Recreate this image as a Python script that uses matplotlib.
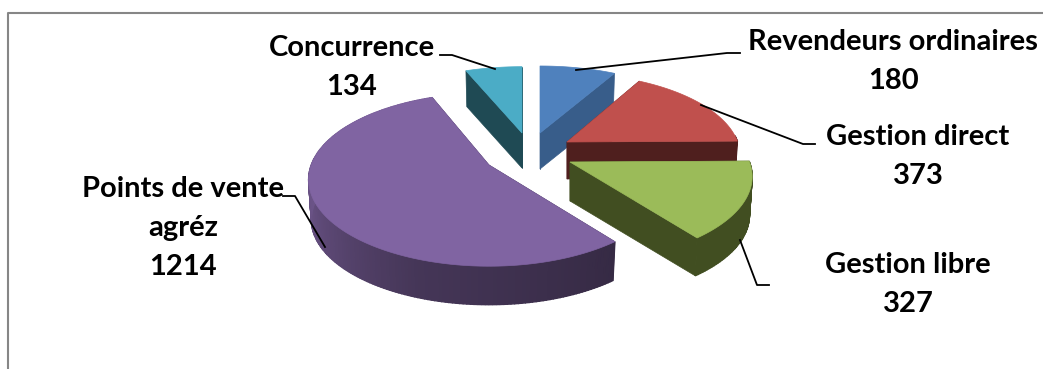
import numpy as np
import matplotlib
matplotlib.use("Agg")
import matplotlib.pyplot as plt
from matplotlib.colors import to_rgb


# ==================================
# DATA
# ==================================

categories = ["Revendeurs ordinaires", "Gestion direct", "Gestion libre",
              "Points de vente\nagréz", "Concurrence"]
values = [180, 373, 327, 1214, 134]


# ==================================
# SETTINGS
# ==================================

top_colors = ["#4F81BD", "#C0504D", "#9BBB59", "#8064A2", "#4BACC6"]
face_colors = ["#385D8A", "#4F1F1E", "#414E21", "#35294A", "#1F4A54"]

# apex of every exploded slice, in pixels
apex_x = [540, 567, 570, 489, 522]
apex_y = [133, 142, 162, 165, 133]
depths = [36, 37, 39, 40, 35]

# small per-slice corrections of the ellipse radii
rx_scale = [1.0, 0.97, 1.02, 1.01, 1.0]
ry_scale = [0.98, 1.0, 1.04, 1.05, 0.97]

RX = 176
RY = 80
PERSPECTIVE = 0.17
BOTTOM_SCALE = 0.985

# label centres (first line) and leader lines
label_x = [893, 918, 908, 183, 352]
label_y = [42, 137, 265, 189, 48]
LINE_PITCH = 39
leaders = [
    [(576, 70), (727, 53), (740, 53)],
    [(701, 105), (803, 144), (815, 144)],
    [(740, 240), (757, 285), (769, 285)],
    [(325, 247), (295, 196), (283, 196)],
    [(495, 69), (452, 55), (440, 55)],
]

# slice order from back to front
draw_order = [4, 0, 1, 3, 2]


# ==================================
# HELPERS
# ==================================

def project(theta, i, scale=1.0):
    # theta in degrees, clockwise from twelve o'clock
    t = np.radians(theta)
    u = np.sin(t)
    v = np.cos(t)
    w = 1 + PERSPECTIVE * v
    return (scale * rx_scale[i] * RX * u / w,
            -scale * ry_scale[i] * RY * v / w)


def wall_shade(theta):
    # front of the pie is dark on the right, lighter towards the left
    return np.interp(theta, [90, 142, 200, 250, 300, 360],
                     [0.42, 0.42, 0.54, 0.78, 0.92, 0.92])


# ==================================
# DRAW
# ==================================

fig = plt.figure(figsize=(10.43, 3.69), dpi=100)
ax = fig.add_axes([0, 0, 1, 1])
ax.set_xlim(0, 1043)
ax.set_ylim(369, 0)
ax.axis("off")

ax.plot([8, 8, 1043], [369, 13, 13], color="#868686", lw=1.5)

edges = np.concatenate([[0], np.cumsum(values)]) / np.sum(values) * 360

for i in draw_order:
    start, end = edges[i], edges[i + 1]
    cx, cy, d = apex_x[i], apex_y[i], depths[i]
    thetas = np.linspace(start, end, int(end - start) + 2)
    sx, sy = project(thetas, i)
    bx, by = project(thetas, i, BOTTOM_SCALE)

    # cut faces
    for k in [0, -1]:
        ax.fill([cx, cx + sx[k], cx + bx[k], cx],
                [cy, cy + sy[k], cy + by[k] + d, cy + d],
                color=face_colors[i], lw=0.5, zorder=1)

    # outer wall, one strip per step so the shading can vary
    base = np.array(to_rgb(top_colors[i]))
    for k in range(len(thetas) - 1):
        mid = (thetas[k] + thetas[k + 1]) / 2
        if 85 < mid < 275 or i == 3:
            if i == 3:
                col = base * wall_shade(mid)
            else:
                col = to_rgb(face_colors[i])
            ax.fill([cx + sx[k], cx + sx[k + 1], cx + bx[k + 1], cx + bx[k]],
                    [cy + sy[k], cy + sy[k + 1], cy + by[k + 1] + d, cy + by[k] + d],
                    color=col, lw=1.0, zorder=1)

    # top of the slice
    ax.fill(np.r_[cx, cx + sx], np.r_[cy, cy + sy],
            color=top_colors[i], lw=0.5, zorder=1)

for pts in leaders:
    xs, ys = zip(*pts)
    ax.plot(xs, ys, color="black", lw=1.3, zorder=3)

for name, value, x, y in zip(categories, values, label_x, label_y):
    lines = name.split("\n") + [str(value)]
    for n, line in enumerate(lines):
        ax.text(x, y + n * LINE_PITCH, line, ha="center", va="center",
                family="Lato", weight="bold", fontsize=21, color="black",
                zorder=4)

fig.savefig("out.png", dpi=100)
